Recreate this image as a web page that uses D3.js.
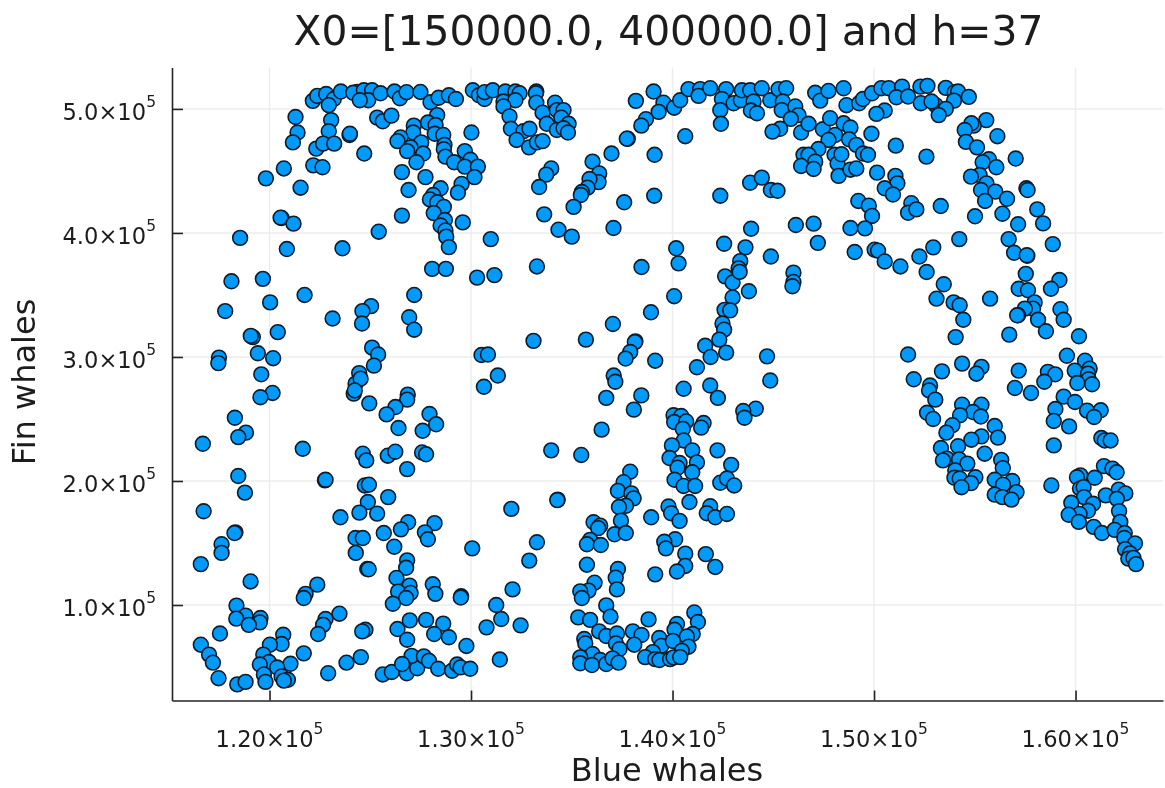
<!DOCTYPE html>
<html>
<head>
<meta charset="utf-8">
<script src="https://cdn.jsdelivr.net/npm/d3@7"></script>
<style>
  body { margin: 0; background: #fff; }
  svg { display: block; filter: blur(0.7px); }
  text { font-family: "DejaVu Sans", sans-serif; fill: #1c1c1c; }
</style>
</head>
<body>
<svg id="svg_whales" width="1165" height="788"></svg>
<script>
// whale counts in thousands
const blueWhales = [
  122.15,122.37,122.81,123.19,122.94,123.54,124.35,124.15,124.68,125.09,
  124.9,124.48,125.51,126.2,126.47,126.8,127.49,127.99,128.39,128.9,
  129.25,121.29,125.34,125.62,126.05,123.06,122.94,121.39,121.16,123.97,
  123.99,122.32,122.66,123.21,124.7,128.32,127.86,128.24,127.16,127.13,
  128.2,128.62,130.02,126.5,126.35,127.53,128.68,127,126.83,127.63,
  128.65,128.73,129.69,127.29,129.16,129.97,129.69,130.34,130.17,120.71,
  122.17,122.63,119.82,126.57,127.74,121.54,126.9,128.49,129.53,129.35,
  128.12,127.96,128.32,128.65,128.15,128.7,128.49,128.73,129.59,126.57,
  120.6,120.55,121.19,125.42,118.54,128.77,128.9,130.98,120.86,123.62,
  128.07,128.75,130.09,130.39,130.67,130.67,131.08,
  118.11,119.67,130.3,131.16,121.74,120.03,127.18,117.8,125.04,124.61,
  123.13,124.59,126.93,127.18,120.41,119.17,119.07,125.09,125.39,119.42,
  120.18,117.49,117.46,130.52,130.84,125.18,124.45,119.59,124.27,124.52,
  124.18,124.23,120.15,119.55,130.64,131.33,124.95,126.86,126.83,126.25,
  125.81,127.94,128.27,127.6,126.4,118.28,118.83,118.45,116.69,121.65,
  124.63,124.8,125.87,126.24,127.57,127.77,126.83,118.45,122.75,122.78,
  124.73,124.93,
  118.78,116.73,125.89,124.88,124.46,125.34,123.52,126.88,126.52,128.19,
  127.71,127.86,125.67,124.27,124.63,118.31,118.26,117.62,117.62,126.19,
  130.06,124.28,126.83,126.78,116.59,124.85,124.92,126.3,119.06,126.95,
  128.1,128.23,126.38,127,126.78,122.37,121.79,121.7,126.12,129.51,
  129.49,118.36,118.81,118.35,119.55,119.52,118.97,123.47,122.78,122.66,
  122.41,131.25,131.5,130.77,126.96,127.77,128.62,128.17,128.9,126.35,
  126.83,117.54,124.76,124.6,129.77,116.59,117,117.19,117.47,118.4,
  118.81,120.68,120.6,120.02,119.69,119.97,119.52,121.04,120.38,121.7,
  119.72,119.8,120.6,120.91,120.71,123.82,124.53,122.91,125.62,126.07,
  126.81,127.33,127.05,126.58,127.66,127.91,128.37,129.06,129.31,129.48,
  129.96,131.43,
  131.7,132.2,132.41,131.61,132.2,131.61,131.91,131.98,132.6,132.9,
  132.26,132.88,133.27,133.55,133.24,133.22,133.24,133.55,133.76,134.17,
  134.26,134.59,134.48,134.26,134.84,134.59,134.81,133.98,133.73,133.38,
  133.63,134.34,135,133.27,138.18,139.06,139.55,139.31,138.68,138.45,
  140.08,140.38,140.79,141.37,141.29,141.87,142.66,142.45,143.03,143.39,
  143.44,142.37,142.4,143.85,144.43,144.02,143.89,144.19,144.85,145.26,
  145.64,145.47,145.42,146.09,146.25,145.87,145.34,144.96,146.38,146.75,
  147.46,147.82,147.08,147.33,147.74,148.07,147.74,147.24,146.5,146.75,
  147.08,146.38,147,148.04,148.19,148.24,140.63,137.78,137.73,136.97,
  139.11,136.03,136.36,136.33,135.88,135.78,135.5,135.45,135.09,137.6,
  139.09,137.07,142.37,143.85,144.43,144.88,145.21,146.12,147,143.9,
  142.56,143.62,147.21,140.18,140.3,138.46,144.88,143.36,143.28,146,
  142.61,
  142.98,143.33,146,145.95,143.79,142.98,140.08,138.93,142.58,142.86,
  142.48,142.56,137.04,142.32,138.16,138.13,141.62,135.7,133.1,137.9,
  137.67,139.14,142.66,141.89,144.69,141.21,137.08,137.16,144.85,141.87,
  140.55,142.25,138.45,136.71,138.08,144.13,143.51,143.57,140.05,140.43,
  140.08,140.68,140.51,141.54,141.42,136.48,140.55,139.97,140.98,142.23,
  133.98,135.47,139.85,140.35,141.21,140.25,142.91,140.98,137.9,140.1,
  137.57,140.55,141.12,142.37,142.7,143.06,
  137.29,137.96,138.07,137.69,137.34,134.3,134.28,132,140.84,139.8,
  139.93,140.35,138.94,141.87,141.7,142.12,142.7,137.44,136.08,136.41,
  136.31,137.12,137.68,135.91,135.75,136.44,133.27,132.89,140.13,139.59,
  139.67,140.63,141.65,140.63,140.22,142.12,139.14,135.75,137.29,137.18,
  137.24,136.13,135.83,135.42,135.5,132.06,136.71,136.92,135.32,135.91,
  132.46,138.81,141.08,141.26,140.22,140.1,141,140.71,136.36,136.71,
  137.24,135.62,135.67,137.19,137.37,138.03,138.46,138.1,139.34,139.44,
  140.02,140.79,140.46,139.02,138.64,139.14,139.35,139.88,140.05,140.38,
  136.03,135.42,135.42,136.41,136,136.71,137.02,137.32,
  148.49,148.63,149.26,149.45,149.9,150.36,150.73,151.39,151.11,151.69,
  152.3,152.65,152.32,153.06,152.85,153.56,154,154.17,153.97,154.7,
  153.56,153.21,150.53,150.12,148.49,148.83,148.76,149.12,149.87,148.38,
  149.45,149.7,148.83,149.12,150.15,151.08,152.6,151.06,151.16,150.53,
  150.94,149.22,149.74,149.9,148.83,149.55,149.04,150.03,150.2,150.53,
  151.31,151.85,151.69,152.1,153.31,152.25,152.94,152.61,154.23,155.57,
  156.12,154.95,154.83,154.5,154.56,155.11,155.7,155.39,156.07,157.03,
  155.24,154.81,155.58,155.31,156.02,156.6,155.51,157.56,157.62,155.01,
  156.37,158.1,158.39,157.15,156.68,158.87,156.95,157.61,157.58,157.53,
  159.2,
  153.46,153.1,153.95,154.25,154.43,154.05,155.76,157.18,157.64,158.78,
  157.97,157.89,157.48,157.15,157.1,158.14,159.25,159.41,158.53,156.71,
  160.17,159.57,160.47,160.7,159.96,160.62,160.65,160.82,160.09,151.69,
  154.37,155.33,155.08,153.37,151.97,152.78,152.73,153.04,157.18,158.63,
  158.99,158.45,156.99,157.79,159.41,159.97,159,160.57,161.25,160.92,
  158.92,159.68,154.37,155.33,154.91,154.27,155.3,152.63,152.93,153.89,
  153.59,155.99,156.15,155.33,154.83,154.17,153.32,161.28,161.45,161.74,
  158.92,155.49,153.62,154.22,153.42,154.63,156.31,156.39,154.03,153.99,
  154.25,155.03,154.81,154.34,155.99,156.86,156.4,157.07,155.99,156.37,
  156.82,158.8,160.24,160.07,160.95,161.41,161.83,162.04,160.22,160.4,
  162.14,162.47,161.5,162.05,160.42,159.79,160.87,160.62,160.2,159.66,
  160.16,162.16,162.22,160.9,161.31,161.94,162.44,162.42,162.95,162.46,
  162.7,162.62,162.87,163
];

const finWhales = [
  506.5,510.5,512,508,503,514,513.7,513,515,515,
  507,507,512.6,514,508.6,513.5,513.7,505.4,509,511,
  508,493.5,493,490,494.6,491,482,481,473,479,
  480,468,472,472,464,495,489,487,486.5,481,
  480,479,481,477,474,473,471,469,466,464,
  467.5,461.5,466,457,457,459,453.5,453.5,445,452,
  454.5,453,444,449,445,436.5,434.6,436,439.5,432.5,
  430.6,427,424.7,421,416,410.4,406,402,408.5,414,
  412,412.3,407.5,401,396,397,388.6,395,387,387.6,
  371,371,515,511,508,513.5,515,
  361,363,364,366,350,344,350,337,341,337,
  331,327,332,322,320,316,317,307.5,302,303,
  299,299.5,295,301.6,302,293,287,286,278.5,282.5,
  270.4,273,271,267.5,276,285,262.6,269.6,265.6,259.6,
  253.7,254,245.7,240.5,242.7,251,239,235.4,230,226,
  222,216.6,220.4,223.6,223,221.5,209.6,204,200.5,201,
  196.4,197,
  190.6,175.6,187,183,174.5,173.7,170.7,166.7,161,166,
  158.6,153,158,154,154,158.6,158,149,142,147,
  145.7,142,136,130,133,129,128.8,121.8,119,115.6,
  116.7,109,110.8,109.7,105.6,116.4,109,105.6,101,107,
  106,99.5,91.4,89,89.5,86,84,93,88.7,84,
  76.6,100,88.7,82,87.6,88,85,76.6,74,80.6,
  72,77,80,78.7,67,68,60,53.5,41,36,
  38,76,68.5,68,60,54,52,52.6,49.6,61,
  44,38,42.4,39.7,39,53.5,58,45,44,46,
  45,49,59,52.4,58.6,55,48.6,47,52,49.7,
  48.6,56,
  514,514,512.6,506,507,502,494,484,482,484,
  475,469,473,474,514,512.6,505,497,488,505,
  499,499,493,483,488,484.4,481,452,447,437,
  415,402.6,397,373,506.5,514,505,497.6,491.7,486.5,
  501,507,516,516,510.5,516.7,516,508,504.6,507,
  515,499,488,515,516.7,506,498.7,496.5,507,516,
  516.7,506,499,502,495,492,484,481.7,481,488,
  483.6,492.5,513,506.7,514.5,479,475,467.7,463,463,
  457.5,454,451.6,463,456,446,478,476,476,464,
  463,457.5,448,441,443.5,436.5,433,430.6,421,424.7,
  430,404,430,440.5,444.6,434.6,434,406.4,407.5,403.4,
  391.3,388.4,392,387.6,375.5,372.5,381,377.3,371.4,368,
  365,
  360,368.6,360.5,357,353,348,349,336,338,337.6,
  327,322,326.6,314,312.6,312,309,314,313,304,
  298.7,297,303.5,300,300.5,291.7,285,280,281,277,
  274.4,267,269,267,257.5,258.3,256.4,251,253,252.4,
  247.5,248,242,246.7,243,241.4,232.7,228.7,224.7,224.7,
  224.7,221,218.5,214.5,215,210.7,213,207,207.5,201,
  199,196,196,198.6,202,196.4,
  192,190,186,180,179,185,184.6,177.5,183,179.4,
  174,167.8,170.7,179.6,174,170.7,173.4,168,166.7,164,
  162,157,158,152.5,149,148.4,150.6,135.8,153,151,
  145.7,141.4,141,131.5,127,130.7,124.7,132.5,129,122,
  112.6,118,111.6,111,105.6,112.6,99.7,90.6,90,88,
  83.6,88.4,94,86.3,84.7,80,76.6,74.7,78.7,75,
  77,72.6,69,69,64.5,78.7,75.8,68,73.4,67,
  71,66.4,63,62,58,56.4,55.6,56.4,57.8,58,
  60.5,57.8,53,55.6,51.6,52.4,57,53.5,
  516.7,503,504.6,508,512.6,516.7,516.7,518,509.4,510,
  518,518.6,504.6,503,506,517,513.5,514,506.7,509.7,
  500,495,498.7,496,488.4,485,475.5,471,480,463.4,
  464,463,451,452,448.6,470.4,461.5,446,440,436,
  431,425.8,422,413.7,404,403.7,384.6,386.5,385.7,377,
  373,424,416.3,419,421.7,381,388.4,368.5,395,491,
  478,486.5,488.4,483,473.4,469,459.4,457,453,460,
  446.7,445.4,440,434.6,433.3,427.6,425.8,436,434.6,413.4,
  415.5,419,407.7,407,395,391,384,381.6,382,367,
  362,
  358.6,347,344,341.7,330,316,347,355,353.8,355,
  344,339,339,333.6,333.6,330,338.5,330,320.7,318,
  316.7,301,297,290.6,289,286.6,282,278,279,302,
  294.6,292,286.5,288.4,282,277,273,265.6,289,288,
  286,280,275,271,268,263.7,258,256.7,257,251.6,
  248.4,244,261.5,261.5,255.6,253,252,255,250,245,
  239,244.3,235,236,233.3,228,226.6,234.6,232.7,232.7,
  228.7,222,218,217.4,216.6,214,217,210.4,208.5,202.6,
  202,203,198.3,195,201,200,197,191,189,187,
  185,196.4,204.5,203,202.6,212,210,207,194,195,
  193,190,188.4,185.6,187,182.4,181.6,176,173.4,172.8,
  167,175.7,167,163,158,160.6,158,154,149.7,145,
  141.6,137.4,138,133
];

const xTicks = [120, 130, 140, 150, 160];
const xTickLabels = ['1.20', '1.30', '1.40', '1.50', '1.60'];
const yTicks = [100, 200, 300, 400, 500];
const yTickLabels = ['1.0', '2.0', '3.0', '4.0', '5.0'];

const left = 172;
const right = 1163;
const top_ = 67.5;
const bottom = 700.5;

const xscale = d3.scaleLinear().domain([115.16, 164.34]).range([left, right]);
const yscale = d3.scaleLinear().domain([23, 533.4]).range([bottom, top_]);

const svg = d3.select('#svg_whales');

// grid
svg.append('g').selectAll('line').data(xTicks).enter().append('line')
  .attr('x1', (d) => xscale(d)).attr('x2', (d) => xscale(d))
  .attr('y1', top_).attr('y2', bottom)
  .attr('stroke', '#ededed').attr('stroke-width', 1.5);
svg.append('g').selectAll('line').data(yTicks).enter().append('line')
  .attr('x1', left).attr('x2', right)
  .attr('y1', (d) => yscale(d)).attr('y2', (d) => yscale(d))
  .attr('stroke', '#ededed').attr('stroke-width', 1.5);

// axes, ticks point into the plot like Plots.jl does
const bottomAxis = d3.axisBottom(xscale).tickValues(xTicks).tickSizeInner(-10).tickSizeOuter(0).tickFormat('');
svg.append('g').attr('transform', `translate(0, ${bottom})`).call(bottomAxis)
  .call((g) => g.selectAll('path, line').attr('stroke', '#222').attr('stroke-width', 1.6));
const leftAxis = d3.axisLeft(yscale).tickValues(yTicks).tickSizeInner(-11).tickSizeOuter(0).tickFormat('');
svg.append('g').attr('transform', `translate(${left}, 0)`).call(leftAxis)
  .call((g) => g.selectAll('path, line').attr('stroke', '#222').attr('stroke-width', 1.6));

// tick labels with a raised exponent
const sciLabel = (sel) => {
  sel.append('tspan').text((d) => d + '×10');
  sel.append('tspan').text('5').attr('dy', -13).attr('font-size', 15.5);
};

svg.append('g').selectAll('text').data(xTicks).enter().append('text')
  .datum((d, i) => xTickLabels[i])
  .attr('x', (d, i) => xscale(xTicks[i]))
  .attr('y', 747).attr('text-anchor', 'middle').attr('font-size', 22.6)
  .call(sciLabel);

svg.append('g').selectAll('text').data(yTicks).enter().append('text')
  .datum((d, i) => yTickLabels[i])
  .attr('x', 156)
  .attr('y', (d, i) => yscale(yTicks[i]) + 11).attr('text-anchor', 'end').attr('font-size', 22.6)
  .call(sciLabel);

// points
svg.append('g').selectAll('circle')
  .data(d3.zip(blueWhales, finWhales))
  .enter()
  .append('circle')
  .attr('cx', (d) => xscale(d[0]))
  .attr('cy', (d) => yscale(d[1]))
  .attr('r', 7.4)
  .attr('fill', '#009afa')
  .attr('stroke', '#0c1c2a')
  .attr('stroke-width', 1.6);

svg.append('text')
  .text('X0=[150000.0, 400000.0] and h=37')
  .attr('x', 668.5).attr('y', 45)
  .attr('text-anchor', 'middle').attr('font-size', 40.8);

svg.append('text')
  .text('Blue whales')
  .attr('x', 667).attr('y', 781)
  .attr('text-anchor', 'middle').attr('font-size', 32);

svg.append('text')
  .text('Fin whales')
  .attr('transform', 'translate(35, 382) rotate(-90)')
  .attr('text-anchor', 'middle').attr('font-size', 32);
</script>
</body>
</html>
